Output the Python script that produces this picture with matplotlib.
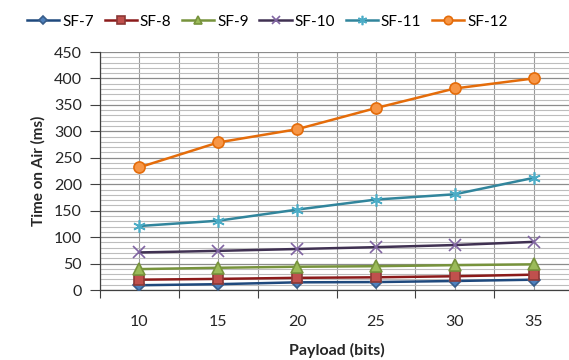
import matplotlib
matplotlib.use("Agg")
import matplotlib.pyplot as plt
from matplotlib.ticker import MultipleLocator, FixedLocator
import numpy as np

payload = [10, 15, 20, 25, 30, 35]
sf7 = [9, 11, 14.5, 15, 17, 19.5]
sf8 = [19.5, 21, 23, 24, 26, 29]
sf9 = [39.5, 42, 44, 45, 47, 48.5]
sf10 = [71, 74, 77.5, 81, 85, 91]
sf11 = [121, 131, 152, 171, 181, 212]
sf12 = [232, 279, 304, 344, 381, 400]

series = [
    ("SF-7", sf7, "#1F497D", "D", "#4F81BD", "#385D8A", 6),
    ("SF-8", sf8, "#8B1A1A", "s", "#C0504D", "#8C3836", 7.5),
    ("SF-9", sf9, "#77933C", "^", "#9BBB59", "#77933C", 8),
    ("SF-10", sf10, "#403152", "x", "#8064A2", "#8064A2", 8),
    ("SF-11", sf11, "#31859C", (6, 2, 0), "#4BACC6", "#4BACC6", 9),
    ("SF-12", sf12, "#E46C0A", "o", "#F79646", "#E46C0A", 8),
]

plt.rcParams["font.family"] = ["Lato", "DejaVu Sans"]

fig = plt.figure(figsize=(5.69, 3.60), dpi=100)
ax = fig.add_axes([100 / 569, 70 / 360, 473 / 569, 238 / 360])

x = np.arange(len(payload))
for name, vals, lc, mk, mf, me, ms in series:
    ax.plot(x, vals, color=lc, lw=1.8, marker=mk, markersize=ms,
            markerfacecolor=mf, markeredgecolor=me, markeredgewidth=1.2,
            label=name, zorder=3)

ax.set_xlim(-0.5, len(payload) - 0.5)
ax.set_ylim(0, 450)

# category boundaries carry ticks; category centres carry labels
ax.xaxis.set_major_locator(FixedLocator(np.arange(-0.5, len(payload), 1.0)))
ax.xaxis.set_minor_locator(FixedLocator(x))
ax.set_xticklabels([])
ax.set_xticklabels([str(p) for p in payload], minor=True)
ax.tick_params(axis="x", which="major", length=6, width=0.8, color="#404040",
               direction="out")
ax.tick_params(axis="x", which="minor", length=0, pad=18, labelsize=11.5,
               labelcolor="#262626")

ax.yaxis.set_major_locator(MultipleLocator(50))
ax.yaxis.set_minor_locator(MultipleLocator(10))
ax.tick_params(axis="y", which="major", length=7, width=0.8, color="#404040",
               direction="out", labelsize=11.5, labelcolor="#262626", pad=6)
ax.tick_params(axis="y", which="minor", length=0)

ax.grid(True, axis="x", which="both", color="#9a9a9a", lw=0.8)
ax.grid(True, axis="y", which="major", color="#8c8c8c", lw=0.9)
ax.grid(True, axis="y", which="minor", color="#bdbdbd", lw=0.8)
ax.set_axisbelow(True)

for side in ("top", "right"):
    ax.spines[side].set_visible(False)
for side in ("left", "bottom"):
    ax.spines[side].set_color("#404040")
    ax.spines[side].set_linewidth(0.9)

ax.set_xlabel("Payload (bits)", fontsize=11.5, fontweight="bold",
              color="#262626", labelpad=10)
ax.set_ylabel("Time on Air (ms)", fontsize=11, fontweight="bold",
              color="#262626", labelpad=6)

fig.legend(loc="upper center", bbox_to_anchor=(0.47, 0.985), ncol=6,
           frameon=False, fontsize=11, handlelength=2.1, handletextpad=0.2,
           columnspacing=0.7, borderaxespad=0.2, markerscale=0.75)

fig.savefig("out.png", dpi=100)
